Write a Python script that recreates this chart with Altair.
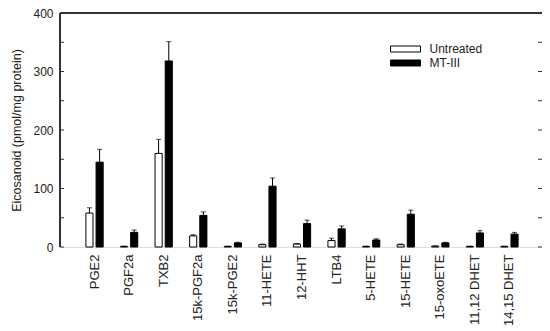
import altair as alt
import pandas as pd

categories = ["PGE2", "PGF2a", "TXB2", "15k-PGF2a", "15k-PGE2", "11-HETE", "12-HHT",
              "LTB4", "5-HETE", "15-HETE", "15-oxoETE", "11,12 DHET", "14,15 DHET"]
groups = ["Untreated", "MT-III"]
untreated = [58, 1, 160, 19, 1, 4, 5, 11, 1, 4, 1.5, 1, 1]
untreated_err = [67, 1.5, 184, 21, 1.5, 5, 6, 15, 1.5, 5, 2, 1.5, 1.5]
mt3 = [145, 25, 318, 54, 7, 104, 40, 31, 12, 56, 7, 24, 22]
mt3_err = [167, 29, 351, 60, 8, 118, 46, 36, 14, 63, 8, 28, 25]
y_labels = [0, 100, 200, 300, 400]
y_ticks = [0, 50, 100, 150, 200, 250, 300, 350, 400]

rows = []
for i, c in enumerate(categories):
    rows.append({"cat": c, "group": "Untreated", "value": untreated[i], "upper": untreated_err[i]})
    rows.append({"cat": c, "group": "MT-III", "value": mt3[i], "upper": mt3_err[i]})
df = pd.DataFrame(rows)
ticks_df = pd.DataFrame({"t": y_ticks})

W, H = 482, 234
FONT = "Liberation Sans"
FRAME = "#333"

xscale = alt.Scale(domain=categories, paddingInner=0.5, paddingOuter=0.72, align=0.52)
yscale = alt.Scale(domain=[0, 400], nice=False)
xoff_scale = alt.Scale(domain=groups, paddingInner=0.3, paddingOuter=0)

xenc = alt.X("cat:N", scale=xscale, sort=categories, title=None,
             axis=alt.Axis(labelAngle=-90, ticks=False, domain=False, labelPadding=7,
                           labelFontSize=13, labelColor="#222", labelFont=FONT))
yenc = alt.Y("value:Q", scale=yscale,
             title="Eicosanoid (pmol/mg protein)",
             axis=alt.Axis(values=y_labels, ticks=False, domain=False, grid=False,
                           labelPadding=7, labelFontSize=12, labelColor="#222", labelFont=FONT,
                           titleFontSize=12.5, titleFont=FONT, titleFontWeight="normal",
                           titleColor="#222", titlePadding=9))
xoff = alt.XOffset("group:N", scale=xoff_scale, sort=groups)

base = alt.Chart(df)

bars = base.mark_bar(stroke="black", strokeWidth=1).encode(
    x=xenc, xOffset=xoff, y=yenc,
    fill=alt.Fill("group:N", sort=groups,
                  scale=alt.Scale(domain=groups, range=["white", "black"]),
                  legend=alt.Legend(title=None, orient="none", legendX=337.5, legendY=28,
                                    symbolType="M-2,-0.4H2V0.4H-2Z", symbolSize=225,
                                    symbolStrokeColor="black", symbolStrokeWidth=1,
                                    labelFontSize=12, labelFont=FONT, labelColor="#222",
                                    labelOffset=16, rowPadding=0, padding=0)),
)

err = base.mark_rule(color="black", strokeWidth=1).encode(
    x=alt.X("cat:N", scale=xscale, sort=categories),
    xOffset=xoff,
    y=alt.Y("value:Q", scale=yscale),
    y2="upper:Q",
)
caps = base.mark_tick(color="black", thickness=1, size=5, orient="horizontal").encode(
    x=alt.X("cat:N", scale=xscale, sort=categories),
    xOffset=xoff,
    y=alt.Y("upper:Q", scale=yscale),
)

lt = alt.Chart(ticks_df).mark_rule(color=FRAME, strokeWidth=1).encode(
    y=alt.Y("t:Q", scale=yscale), x=alt.value(0), x2=alt.value(4))
rt = alt.Chart(ticks_df).mark_rule(color=FRAME, strokeWidth=1).encode(
    y=alt.Y("t:Q", scale=yscale), x=alt.value(W - 4), x2=alt.value(W))
left_edge = alt.Chart(ticks_df).mark_rule(color=FRAME, strokeWidth=1).encode(
    x=alt.value(0), y=alt.value(0), y2=alt.value(H))
top_edge = alt.Chart(ticks_df).mark_rule(color=FRAME, strokeWidth=1).encode(
    x=alt.value(0), x2=alt.value(W), y=alt.value(0))

chart = alt.layer(bars, err, caps, lt, rt, left_edge, top_edge).properties(
    width=W, height=H,
    autosize=alt.AutoSizeParams(type="none"),
    padding={"left": 52, "top": 5, "right": 0, "bottom": 80},
).configure_view(stroke=FRAME, strokeWidth=1).configure(background="white")

chart.save("out.html", embed_options={"renderer": "svg", "actions": False})
